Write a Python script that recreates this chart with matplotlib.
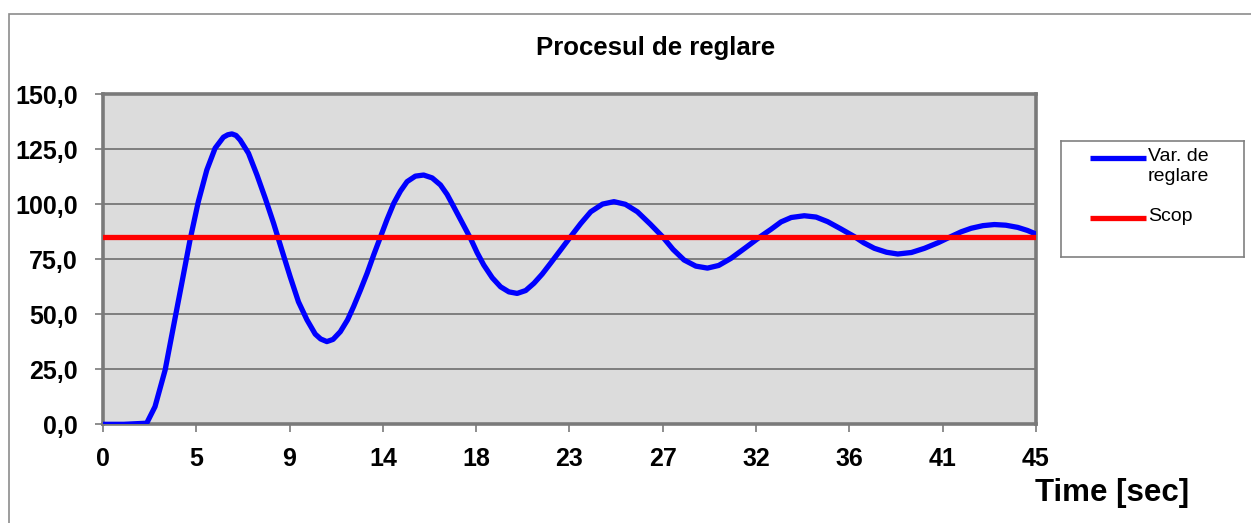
import numpy as np
import matplotlib
matplotlib.use("Agg")
import matplotlib.pyplot as plt
from matplotlib.patches import Rectangle

plt.rcParams['font.family'] = ['Liberation Sans', 'DejaVu Sans']

# Process variable over time (seconds) and its set point
time_s = [0.0, 1.0, 2.11, 2.51, 3.0, 3.4, 3.8, 4.2, 4.6, 5.01, 5.41, 5.81, 6.02, 6.22,
          6.42, 6.62, 7.02, 7.43, 7.83, 8.23, 8.63, 9.03, 9.43, 9.84, 10.24, 10.5, 10.8,
          11.1, 11.45, 11.8, 12.09, 12.42, 12.74, 13.06, 13.38, 13.7, 14.03, 14.35,
          14.67, 15.07, 15.47, 15.88, 16.28, 16.6, 16.92, 17.32, 17.73, 18.05, 18.37,
          18.78, 19.18, 19.58, 19.98, 20.39, 20.79, 21.19, 21.59, 22.08, 22.56, 23.05,
          23.53, 24.1, 24.65, 25.2, 25.78, 26.4, 26.99, 27.5, 28.03, 28.6, 29.16, 29.7,
          30.29, 31.0, 31.74, 32.22, 32.71, 33.2, 33.83, 34.4, 34.96, 35.6, 36.25, 36.7,
          37.21, 37.8, 38.34, 39.0, 39.63, 40.3, 40.92, 41.4, 41.88, 42.45, 43.0, 43.55,
          44.13, 44.6, 45.0]
process_var = [0.0, 0.0, 0.5, 8.0, 24.7, 44.4, 64.0, 83.8, 101.2, 115.6, 125.5, 130.5, 131.6, 132.0,
               131.3, 129.2, 123.2, 113.3, 102.7, 91.4, 79.2, 67.1, 55.7, 47.5, 41.0, 38.8, 37.6,
               38.6, 42.1, 47.5, 53.5, 61.0, 68.6, 77.0, 85.0, 93.0, 100.5, 106.0,
               110.3, 112.8, 113.3, 112.0, 108.8, 104.5, 98.9, 91.8, 84.5, 78.0, 72.4,
               66.6, 62.5, 60.2, 59.5, 60.8, 64.1, 68.3, 73.2, 79.3, 85.3, 91.3,
               96.6, 100.1, 101.2, 100.0, 96.6, 91.0, 85.3, 79.5, 74.7, 71.9, 71.0, 72.2,
               75.4, 80.3, 85.5, 88.6, 92.0, 94.0, 94.8, 94.2, 92.1, 88.8, 85.3, 82.5,
               80.0, 78.2, 77.4, 78.1, 80.0, 82.6, 85.4, 87.5, 89.1, 90.3, 90.8, 90.5,
               89.5, 88.1, 86.5]
setpoint = [85.0] * len(time_s)

x_ticks = np.arange(0, 45.1, 4.5)
x_tick_labels = ['0', '5', '9', '14', '18', '23', '27', '32', '36', '41', '45']
y_ticks = np.arange(0, 151, 25)

fig = plt.figure(figsize=(12.51, 5.23), dpi=100)

# outer chart frame (runs off the right and bottom edges)
fig.patches.append(Rectangle((9 / 1251, -0.1), 1.2, 1.1 - 14 / 523,
                             transform=fig.transFigure, fill=False,
                             edgecolor='#8c8c8c', linewidth=1.2))

ax = fig.add_axes([0.0823, 0.1887, 0.7457, 0.631])
ax.set_facecolor('#dcdcdc')

ax.plot(time_s, process_var, color='#0000ff', linewidth=3.8,
        solid_joinstyle='round', zorder=3)
ax.plot(time_s, setpoint, color='#ff0000', linewidth=3.8, zorder=3)

ax.set_xlim(0, 45)
ax.set_ylim(0, 150)
ax.set_xticks(x_ticks)
ax.set_xticklabels(x_tick_labels)
ax.set_yticks(y_ticks)
ax.set_yticklabels([f"{v:.1f}".replace('.', ',') for v in y_ticks])

ax.grid(axis='y', color='#6e6e6e', linewidth=1.2)
ax.set_axisbelow(True)
for s in ax.spines.values():
    s.set_color('#7a7a7a')
    s.set_linewidth(2.6)

ax.tick_params(axis='both', direction='out', length=6, width=1.2, color='#7a7a7a',
               labelsize=18, pad=10)
ax.tick_params(axis='y', pad=12)
for lbl in ax.get_xticklabels() + ax.get_yticklabels():
    lbl.set_fontweight('bold')

fig.text(0.524, 0.908, 'Procesul de reglare', ha='center', va='center',
         fontsize=18.5, fontweight='bold')
fig.text(0.889, 0.057, 'Time [sec]', ha='center', va='center',
         fontsize=22.5, fontweight='bold')

# legend box, laid out in its own pixel-sized axes
lax = fig.add_axes([1061 / 1251, (523 - 257) / 523, 183 / 1251, 116 / 523])
lax.set_xlim(0, 183)
lax.set_ylim(116, 0)
lax.set_xticks([])
lax.set_yticks([])
lax.set_facecolor('white')
for s in lax.spines.values():
    s.set_color('#808080')
    s.set_linewidth(1.2)

legend_items = [('Var. de\nreglare', '#0000ff', 17), ('Scop', '#ff0000', 77)]
for label, color, ypos in legend_items:
    lax.plot([29, 85], [ypos, ypos], color=color, linewidth=3.8, solid_capstyle='butt')
    lax.text(87, ypos - 10, label, ha='left', va='top', fontsize=14, linespacing=1.25)

fig.savefig('out.png', dpi=100, facecolor='white')
